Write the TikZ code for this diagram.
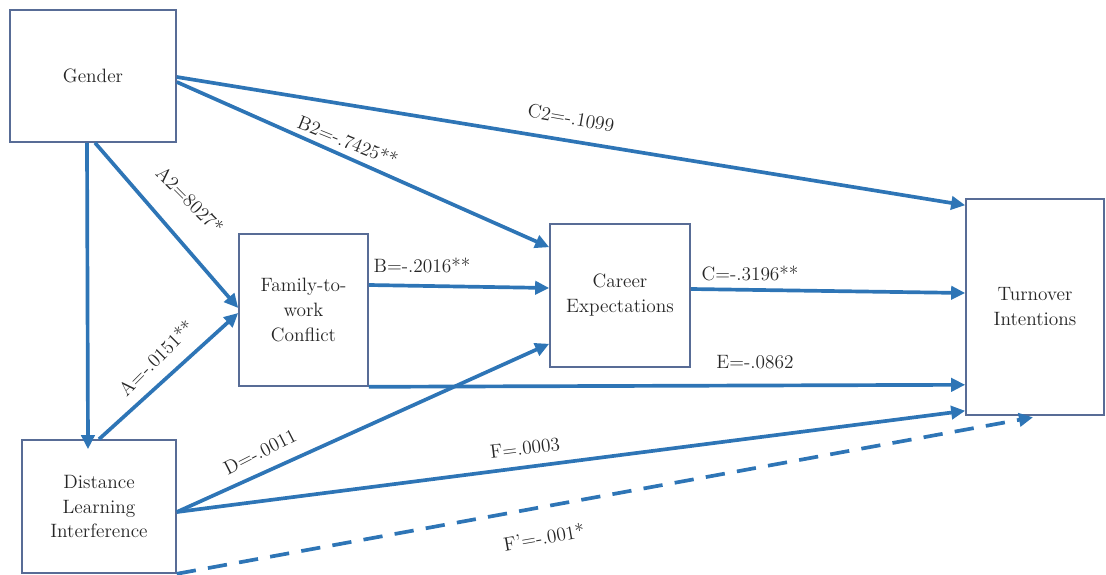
\documentclass[tikz,border=0pt]{standalone}
\usepackage{fontspec}
\definecolor{lineablue}{RGB}{46,117,182}
\definecolor{bordegris}{RGB}{88,108,150}
\usetikzlibrary{arrows.meta}

\begin{document}
\begin{tikzpicture}[
    caja/.style={draw=bordegris, line width=0.9pt, fill=white, align=center, text=black!85},
    flecha/.style={line width=2.1pt, lineablue, -{Triangle[length=8pt,width=7.5pt]}},
    etiqueta/.style={text=black!85, inner sep=1pt},
    font=\rmfamily\fontsize{11}{14.2}\selectfont
]
            \useasboundingbox (0,0) rectangle (22.12,11.48);

            % Cajas
            \node[caja, minimum width=3.32cm, minimum height=2.64cm] (gender) at (1.86,9.96) {Gender};
            \node[caja, minimum width=3.08cm, minimum height=2.66cm] (dli) at (1.98,1.35) {Distance\\Learning\\Interference};
            \node[caja, minimum width=2.58cm, minimum height=3.04cm] (fwc) at (6.07,5.28) {Family-to-\\work\\Conflict};
            \node[caja, minimum width=2.80cm, minimum height=2.86cm] (ce) at (12.40,5.57) {Career\\Expectations};
            \node[caja, minimum width=2.76cm, minimum height=4.32cm] (ti) at (20.70,5.34) {Turnover\\Intentions};

            % Flechas desde Gender
            \draw[flecha] ([xshift=-0.12cm]gender.south) -- ([xshift=-0.22cm,yshift=-0.2cm]dli.north);
            \draw[flecha] ([xshift=0.04cm]gender.south) -- ([yshift=0.04cm]fwc.west);
            \draw[flecha] ([yshift=-0.12cm]gender.east) -- ([yshift=-0.48cm]ce.north west);
            \draw[flecha] ([yshift=-0.02cm]gender.east) -- ([yshift=-0.14cm]ti.north west);

            % Flechas intermedias
            \draw[flecha] (dli.north) -- ([yshift=-0.06cm]fwc.west);
            \draw[flecha] ([yshift=0.5cm]fwc.east) -- ([yshift=0.15cm]ce.west);
            \draw[flecha] ([yshift=0.13cm]ce.east) -- ([yshift=0.28cm]ti.west);
            \draw[flecha] (fwc.south east) -- ([yshift=0.62cm]ti.south west);

            % Flechas desde Distance Learning
            \draw[flecha] ([yshift=-0.11cm]dli.east) -- ([yshift=0.48cm]ce.south west);
            \draw[flecha] ([yshift=-0.11cm]dli.east) -- ([yshift=0.1cm]ti.south west);
            \draw[flecha, dash pattern=on 11pt off 7pt] (dli.south east) -- ([xshift=-0.04cm,yshift=-0.03cm]ti.south);

            % Coeficientes
            \node[etiqueta, rotate=-45] (la2) at (3.80,7.48) {A2=8027*};
            \node[etiqueta, rotate=-22] (lb2) at (6.96,8.66) {B2=-.7425**};
            \node[etiqueta, rotate=-10] (lc2) at (11.42,9.12) {C2=-.1099};
            \node[etiqueta] (lb) at (8.44,6.18) {B=-.2016**};
            \node[etiqueta] (lc) at (15.00,6.02) {C=-.3196**};
            \node[etiqueta] (le) at (15.10,4.24) {E=-.0862};
            \node[etiqueta, rotate=45] (la) at (3.12,4.32) {A=-.0151**};
            \node[etiqueta, rotate=27] (ld) at (5.20,2.44) {D=-.0011};
            \node[etiqueta, rotate=7] (lf) at (10.50,2.52) {F=.0003};
            \node[etiqueta, rotate=10] (lfp) at (10.88,0.74) {F’=-.001*};
        \end{tikzpicture}
\end{document}
